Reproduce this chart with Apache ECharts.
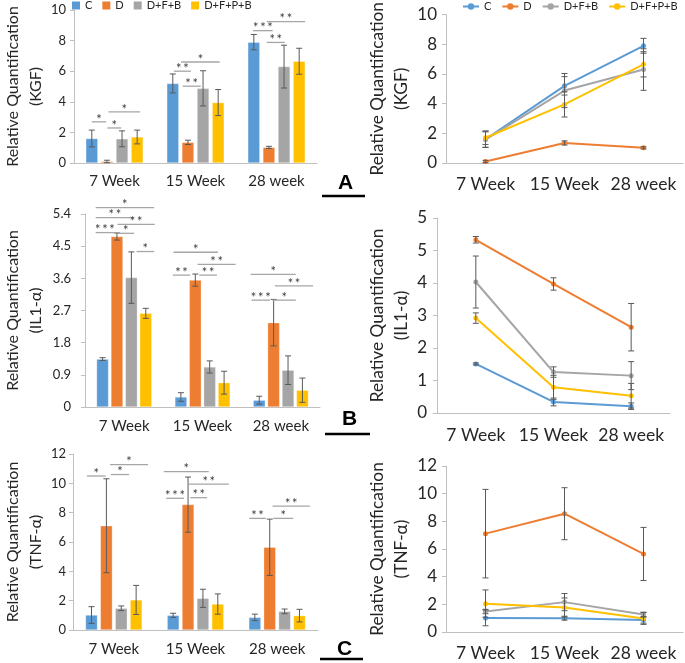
<!DOCTYPE html>
<html><head><meta charset="utf-8">
<script src="https://cdn.jsdelivr.net/npm/echarts@6/dist/echarts.min.js"></script>
<style>html,body{margin:0;padding:0;background:#fff}#c{width:685px;height:663px}</style>
</head><body><div id="c"></div>
<script>
// ---------- data ----------
const categories = ['7 Week', '15 Week', '28 week'];
const groups = ['C', 'D', 'D+F+B', 'D+F+P+B'];

// KGF (panel A) means and SD, per group
const kgfC = [1.6, 5.2, 7.9];
const kgfD = [0.1, 1.35, 1.02];
const kgfDFB = [1.58, 4.88, 6.3];
const kgfDFPB = [1.7, 3.95, 6.65];
const kgfSdC = [0.55, 0.62, 0.5];
const kgfSdD = [0.08, 0.14, 0.07];
const kgfSdDFB = [0.52, 1.15, 1.4];
const kgfSdDFPB = [0.45, 0.85, 0.85];

// IL1-alpha (panel B, bar chart)
const il1C = [1.34, 0.28, 0.19];
const il1D = [4.77, 3.55, 2.36];
const il1DFB = [3.62, 1.12, 1.03];
const il1DFPB = [2.62, 0.68, 0.47];
const il1SdC = [0.04, 0.12, 0.11];
const il1SdD = [0.1, 0.17, 0.65];
const il1SdDFB = [0.72, 0.17, 0.4];
const il1SdDFPB = [0.14, 0.32, 0.34];

// IL1-alpha (panel B, line chart)
const il1LineC = [1.51, 0.34, 0.21];
const il1LineD = [5.33, 3.97, 2.64];
const il1LineDFB = [4.03, 1.26, 1.15];
const il1LineDFPB = [2.92, 0.79, 0.53];
const il1LineSdC = [0.03, 0.12, 0.1];
const il1LineSdD = [0.1, 0.19, 0.73];
const il1LineSdDFB = [0.8, 0.16, 0.43];
const il1LineSdDFPB = [0.16, 0.37, 0.38];
const il1LineTicks = ['0', '1', '2', '3', '4', '5', '5'];

// TNF-alpha (panel C)
const tnfC = [1.02, 1.0, 0.86];
const tnfD = [7.11, 8.55, 5.64];
const tnfDFB = [1.48, 2.16, 1.27];
const tnfDFPB = [2.05, 1.77, 0.98];
const tnfSdC = [0.57, 0.14, 0.22];
const tnfSdD = [3.2, 1.88, 1.92];
const tnfSdDFB = [0.16, 0.62, 0.16];
const tnfSdDFPB = [0.99, 0.69, 0.43];

// significance brackets: [category, fromBar, toBar, yValue, label]
const kgfSig = [
  [0, 0, 0.95, 2.69, '*'], [0, 1.02, 1.95, 2.29, '*'], [0, 1.1, 3.2, 3.34, '*'],
  [1, 0.07, 1.2, 6.0, '**'], [1, 0.55, 3.1, 6.6, '*'], [1, 0.65, 1.85, 5.02, '**'],
  [2, -0.05, 1.25, 8.65, '***'], [2, 0.85, 3.4, 9.24, '**'], [2, 0.85, 2.05, 7.88, '**']
];
const il1Sig = [
  [0, -0.48, 0.81, 4.88, '***'], [0, -0.48, 2.19, 5.30, '**'], [0, -0.48, 3.58, 5.58, '*'],
  [0, 1.04, 3.63, 5.11, '**'], [0, 1.04, 2.19, 4.86, '*'], [0, 2.36, 3.58, 4.35, '*'],
  [1, -0.51, 2.57, 4.33, '*'], [1, 1.16, 3.8, 3.99, '**'], [1, -0.56, 0.65, 3.69, '**'],
  [1, 1.28, 2.5, 3.69, '**'],
  [2, -0.6, 2.54, 3.71, '*'], [2, 1.09, 3.74, 3.39, '**'], [2, -0.53, 0.74, 2.99, '***'],
  [2, 0.92, 2.54, 2.99, '*']
];
const tnfSig = [
  [0, -0.31, 0.96, 10.5, '*'], [0, 1.3, 2.53, 10.6, '*'], [0, 1.25, 3.8, 11.27, '*'],
  [1, -0.63, 2.39, 10.8, '*'], [1, 1.05, 3.74, 9.95, '**'], [1, -0.47, 0.72, 8.98, '***'],
  [1, 1.16, 2.28, 9.02, '**'],
  [2, 1.19, 3.7, 8.45, '**'], [2, -0.38, 0.74, 7.61, '**'], [2, 1.24, 2.58, 7.61, '*']
];

// ---------- styling ----------
const colors = ['#5B9BD5', '#ED7D31', '#A5A5A5', '#FFC000'];
const FONT = 'Lato';
const TXT = '#262626';
const AX = '#bfbfbf';
const BARW = 12;

const chart = echarts.init(document.getElementById('c'), null, { renderer: 'canvas' });

const grids = [
  { left: 68, top: 10, width: 249, height: 153 },   // A bar
  { left: 446, top: 10, width: 237, height: 153 },  // A line
  { left: 77, top: 214, width: 243, height: 193 },  // B bar
  { left: 437, top: 218, width: 233, height: 195 }, // B line
  { left: 68, top: 454, width: 250, height: 176 },  // C bar
  { left: 446, top: 466, width: 237, height: 166 }  // C line
];
// per panel: axis range, title, name gap, label margins
const yCfg = [
  { max: 10, interval: 2, name: 'Relative Quantification\n(KGF)', gap: 26, lm: 8, big: false },
  { max: 10, interval: 2, name: 'Relative Quantification\n(KGF)', gap: 30, lm: 9, big: true },
  { max: 5.4, interval: 0.9, name: 'Relative Quantification\n(IL1-\u03b1)', gap: 38, lm: 14, big: false },
  { max: 6, interval: 1, name: 'Relative Quantification\n(IL1-\u03b1)', gap: 24, lm: 10, big: true, ticks: il1LineTicks },
  { max: 12, interval: 2, name: 'Relative Quantification\n(TNF-\u03b1)', gap: 23, lm: 7, big: false },
  { max: 12, interval: 2, name: 'Relative Quantification\n(TNF-\u03b1)', gap: 32, lm: 9, big: true }
];
const xMargins = [11, 12, 12, 13, 12, 12];

const xAxis = grids.map((g, i) => ({
  type: 'category', gridIndex: i, data: categories,
  axisLine: { lineStyle: { color: AX, width: 1 } },
  axisTick: { show: false },
  axisLabel: { interval: 0, hideOverlap: false, fontSize: yCfg[i].big ? 17.5 : 15, color: TXT, fontFamily: FONT, margin: xMargins[i] }
}));
const yAxis = yCfg.map((c, i) => ({
  type: 'value', gridIndex: i, min: 0, max: c.max, interval: c.interval,
  splitLine: { show: false },
  axisLine: { show: true, lineStyle: { color: AX, width: 1 } },
  axisTick: { show: true, length: 4, lineStyle: { color: AX } },
  axisLabel: {
    fontSize: c.big ? 17 : 13, color: TXT, fontFamily: FONT, margin: c.lm,
    formatter: c.ticks ? (v) => c.ticks[Math.round(v / c.interval)] : (v) => String(+v.toFixed(1))
  },
  name: c.name, nameLocation: 'middle', nameGap: c.gap,
  nameTextStyle: { fontSize: c.big ? 17.3 : 16, lineHeight: c.big ? 24 : 23, color: TXT, fontFamily: FONT }
}));

function errRender(step) {
  return function (params, api) {
    const cat = api.value(0), m = api.value(1), sd = api.value(2), slot = api.value(3);
    const off = (slot - 1.5) * step;
    const t = api.coord([cat, m + sd]), b = api.coord([cat, m - sd]);
    const x = t[0] + off, cap = 3;
    const st = { stroke: '#595959', lineWidth: 1 };
    return { type: 'group', children: [
      { type: 'line', shape: { x1: x, y1: t[1], x2: x, y2: b[1] }, style: st },
      { type: 'line', shape: { x1: x - cap, y1: t[1], x2: x + cap, y2: t[1] }, style: st },
      { type: 'line', shape: { x1: x - cap, y1: b[1], x2: x + cap, y2: b[1] }, style: st }
    ] };
  };
}
function sigRender(step, list) {
  return function (params, api) {
    const cat = api.value(0), a = api.value(1), b = api.value(2), y = api.value(3);
    const p = api.coord([cat, y]);
    const x1 = p[0] + (a - 1.5) * step, x2 = p[0] + (b - 1.5) * step;
    return { type: 'group', children: [
      { type: 'line', shape: { x1: x1, y1: p[1], x2: x2, y2: p[1] }, style: { stroke: '#a6a6a6', lineWidth: 1.3 } },
      { type: 'text', x: (x1 + x2) / 2, y: p[1] + 4, style: {
        text: list[params.dataIndex][4].split('').join('\u2009'), fill: '#404040', font: '13px ' + FONT,
        align: 'center', verticalAlign: 'bottom', textAlign: 'center', textVerticalAlign: 'bottom' } }
    ] };
  };
}

const series = [];
function linePanel(gi, means, sds) {
  means.forEach((arr, k) => {
    series.push({ type: 'line', name: groups[k], xAxisIndex: gi, yAxisIndex: gi, data: arr,
      symbol: 'circle', symbolSize: 5, color: colors[k],
      lineStyle: { width: 2, color: colors[k] }, itemStyle: { color: colors[k] }, z: 3 });
  });
  const ed = [];
  means.forEach((arr, k) => arr.forEach((v, c) => ed.push([c, v, sds[k][c], 1.5])));
  series.push({ type: 'custom', name: 'err' + gi, xAxisIndex: gi, yAxisIndex: gi, data: ed,
    renderItem: errRender(0), z: 4, silent: true });
}
function barPanel(gi, means, sds, sig, gap) {
  means.forEach((arr, k) => {
    series.push({ type: 'bar', name: groups[k], xAxisIndex: gi, yAxisIndex: gi, data: arr,
      barWidth: BARW, barGap: (gap * 100) + '%', color: colors[k],
      itemStyle: { color: colors[k], borderColor: 'rgba(255,255,255,0.6)', borderWidth: 0.5 } });
  });
  const step = BARW * (1 + gap);
  const ed = [];
  means.forEach((arr, k) => arr.forEach((v, c) => ed.push([c, v, sds[k][c], k])));
  series.push({ type: 'custom', name: 'err' + gi, xAxisIndex: gi, yAxisIndex: gi, data: ed,
    renderItem: errRender(step), z: 4, silent: true });
  series.push({ type: 'custom', name: 'sig' + gi, xAxisIndex: gi, yAxisIndex: gi,
    data: sig.map(s => [s[0], s[1], s[2], s[3]]), clip: false,
    renderItem: sigRender(step, sig), z: 5, silent: true });
}

const kgfMeans = [kgfC, kgfD, kgfDFB, kgfDFPB], kgfSds = [kgfSdC, kgfSdD, kgfSdDFB, kgfSdDFPB];
const il1Means = [il1C, il1D, il1DFB, il1DFPB], il1Sds = [il1SdC, il1SdD, il1SdDFB, il1SdDFPB];
const il1LMeans = [il1LineC, il1LineD, il1LineDFB, il1LineDFPB];
const il1LSds = [il1LineSdC, il1LineSdD, il1LineSdDFB, il1LineSdDFPB];
const tnfMeans = [tnfC, tnfD, tnfDFB, tnfDFPB], tnfSds = [tnfSdC, tnfSdD, tnfSdDFB, tnfSdDFPB];

linePanel(1, kgfMeans, kgfSds);
linePanel(3, il1LMeans, il1LSds);
linePanel(5, tnfMeans, tnfSds);
barPanel(0, kgfMeans, kgfSds, kgfSig, 0.26);
barPanel(2, il1Means, il1Sds, il1Sig, 0.2);
barPanel(4, tnfMeans, tnfSds, tnfSig, 0.24);

function letter(t, x, y, lx1, lx2, ly) {
  return [
    { type: 'text', left: x, top: y, style: { text: t, font: 'bold 21px "Liberation Sans"', fill: '#000' } },
    { type: 'line', shape: { x1: lx1, y1: ly, x2: lx2, y2: ly }, style: { stroke: '#000', lineWidth: 2.5 } }
  ];
}

chart.setOption({
  animation: false,
  backgroundColor: '#fff',
  grid: grids,
  xAxis: xAxis,
  yAxis: yAxis,
  legend: [
    { left: 72, top: 0, padding: 0, icon: 'rect', itemWidth: 8, itemHeight: 8, itemGap: 10,
      textStyle: { fontSize: 11, color: TXT, fontFamily: FONT }, data: groups },
    { left: 462, top: 1, padding: 0, itemWidth: 16, itemHeight: 8, itemGap: 10,
      textStyle: { fontSize: 11, color: TXT, fontFamily: FONT }, data: groups }
  ],
  graphic: [].concat(
    letter('A', 338, 173, 322, 365, 196),
    letter('B', 342, 409, 325, 370, 434),
    letter('C', 337, 639, 320, 363, 659)
  ),
  series: series
});
</script>
</body></html>
